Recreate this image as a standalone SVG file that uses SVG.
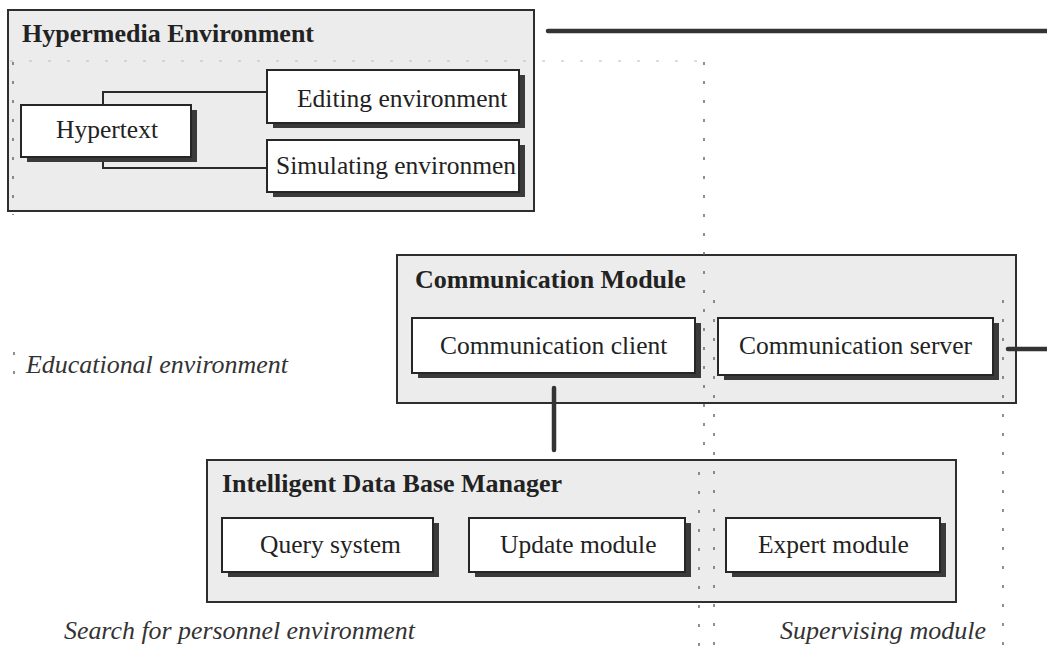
<svg xmlns="http://www.w3.org/2000/svg" width="1047" height="647" viewBox="0 0 1047 647">
<style>
.bg{fill:#ffffff}
.container{fill:#ececec;stroke:#2e2e2e;stroke-width:2}
.node{fill:#ffffff;stroke:#262626;stroke-width:2}
.shadow{fill:#3a3a3a}
.title{font-family:"Liberation Serif",serif;font-weight:bold;font-size:26px;fill:#222}
.label{font-family:"Liberation Serif",serif;font-size:25.5px;fill:#222}
.region{font-family:"Liberation Serif",serif;font-style:italic;font-size:25px;fill:#333}
.thin{fill:none;stroke:#2a2a2a;stroke-width:2}
.thick{fill:none;stroke:#333;stroke-width:4.5;stroke-linecap:round}
.dots{fill:none;stroke:#555;stroke-width:1.3;stroke-dasharray:3 16}
.faint{fill:none;stroke:#bbb;stroke-width:1;stroke-dasharray:3 16}
</style>
<rect class="bg" x="0" y="0" width="1047" height="647"/>

<g id="hypermedia-environment">
<rect class="container" x="8" y="10" width="526" height="201"/>
<text class="title" x="22" y="42">Hypermedia Environment</text>
</g>

<g id="communication-module">
<rect class="container" x="397" y="255" width="619" height="148"/>
<text class="title" x="415" y="288">Communication Module</text>
</g>

<g id="intelligent-data-base-manager">
<rect class="container" x="207" y="460" width="749" height="142"/>
<text class="title" x="222" y="492">Intelligent Data Base Manager</text>
</g>

<g id="region-boundaries">
<path class="faint" d="M10 61 H703"/>
<path class="dots" d="M13 62 V215"/>
<path class="dots" d="M14 352 V382"/>
<path class="dots" d="M704 62 V455 M699 472 V647"/>
<path class="dots" d="M714 300 V647"/>
<path class="dots" d="M1003 300 V647"/>
</g>

<g id="connectors">
<path class="thin" d="M103 105 V92 H267"/>
<path class="thin" d="M103 157 V168 H267"/>
<path class="thick" d="M548 31 H1047"/>
<path class="thick" d="M1008 349 H1047"/>
<path class="thick" d="M554 388 V450"/>
</g>

<g id="hypertext">
<rect class="shadow" x="27" y="110" width="170" height="52"/>
<rect class="node" x="21" y="105" width="170" height="52"/>
<text class="label" x="56" y="138">Hypertext</text>
</g>

<g id="editing-environment">
<rect class="shadow" x="273" y="75" width="252" height="53"/>
<rect class="node" x="267" y="70" width="252" height="53"/>
<text class="label" x="297" y="107">Editing environment</text>
</g>

<g id="simulating-environment">
<rect class="shadow" x="273" y="145" width="252" height="52"/>
<rect class="node" x="267" y="140" width="252" height="52"/>
<text class="label" x="276" y="174">Simulating environmen</text>
</g>

<g id="communication-client">
<rect class="shadow" x="418" y="323" width="283" height="55"/>
<rect class="node" x="412" y="318" width="283" height="55"/>
<text class="label" x="440" y="354">Communication client</text>
</g>

<g id="communication-server">
<rect class="shadow" x="724" y="323" width="275" height="57"/>
<rect class="node" x="718" y="318" width="275" height="57"/>
<text class="label" x="739" y="354">Communication server</text>
</g>

<g id="query-system">
<rect class="shadow" x="228" y="523" width="211" height="54"/>
<rect class="node" x="222" y="518" width="211" height="54"/>
<text class="label" x="260" y="553">Query system</text>
</g>

<g id="update-module">
<rect class="shadow" x="475" y="523" width="216" height="54"/>
<rect class="node" x="469" y="518" width="216" height="54"/>
<text class="label" x="500" y="553">Update module</text>
</g>

<g id="expert-module">
<rect class="shadow" x="732" y="523" width="214" height="54"/>
<rect class="node" x="726" y="518" width="214" height="54"/>
<text class="label" x="758" y="553">Expert module</text>
</g>

<g id="region-labels">
<text class="region" x="26" y="373" textLength="262" lengthAdjust="spacingAndGlyphs">Educational environment</text>
<text class="region" x="64" y="639" textLength="351" lengthAdjust="spacingAndGlyphs">Search for personnel environment</text>
<text class="region" x="780" y="639" textLength="206" lengthAdjust="spacingAndGlyphs">Supervising module</text>
</g>
</svg>
